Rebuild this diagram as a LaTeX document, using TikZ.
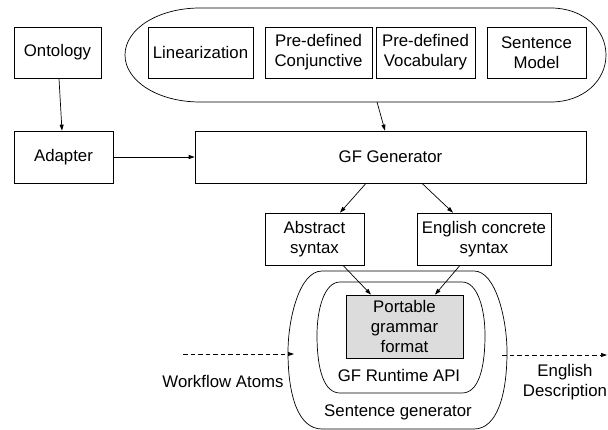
\documentclass[tikz,border=0pt]{standalone}
\usepackage{fontspec}
\setmainfont{Liberation Sans}
\usetikzlibrary{arrows.meta}
\begin{document}
\begin{tikzpicture}[x=1pt,y=-1pt,
  every node/.style={font=\fontsize{16.8}{20}\selectfont},
  box/.style={draw, line width=0.7pt, inner sep=0pt, align=center, minimum height=51pt},
  conn/.style={line width=0.7pt, -{Triangle[length=6pt,width=4pt]}},
  dconn/.style={line width=0.7pt, dash pattern=on 4.5pt off 3pt, -{Triangle[length=6pt,width=4pt]}},
  shell/.style={draw, line width=0.7pt},
  lbl/.style={inner sep=0pt, align=center}]
\useasboundingbox (0,0) rectangle (608,430);

% top container
\draw[shell] (200,8) -- (551,8) .. controls (583,8) and (606,29) .. (606,55)
  .. controls (606,81) and (583,102) .. (551,102) -- (200,102)
  .. controls (158,102) and (125,81) .. (125,55)
  .. controls (125,29) and (158,8) .. (200,8);
\coordinate (ctop) at (377,102);

\node[box, minimum width=87pt] (onto) at (57.5,52.5) {Ontology};
\node[box, minimum width=105pt] (lin) at (200.5,52.5) {Linearization};
\node[box, minimum width=107pt] (conj) at (318.5,52.5) {Pre-defined\\Conjunctive};
\node[box, minimum width=99pt] (voc) at (425.5,52.5) {Pre-defined\\Vocabulary};
\node[box, minimum width=99pt] (smod) at (536.5,52.5) {Sentence\\Model};

\node[box, minimum width=99pt, minimum height=52pt] (adapter) at (63.5,157) {Adapter};
\node[box, minimum width=391pt, minimum height=52pt] (gfgen) at (390.5,157) {GF Generator};

\node[box, minimum width=99pt, minimum height=52pt] (abstract) at (314.5,239) {Abstract\\syntax};
\node[box, minimum width=134pt, minimum height=52pt] (english) at (484,239) {English concrete\\syntax};

% sentence generator shells
\draw[shell] (322,271) -- (474,271) .. controls (496,271) and (507,320) .. (507,352)
  .. controls (507,395) and (497,429) .. (474,429) -- (322,429)
  .. controls (298,429) and (288,395) .. (288,352)
  .. controls (288,320) and (299,271) .. (322,271);
\draw[shell] (340,282) -- (462,282) .. controls (478,282) and (485,310) .. (485,335)
  .. controls (485,370) and (478,393) .. (462,393) -- (340,393)
  .. controls (324,393) and (317,370) .. (317,335)
  .. controls (317,310) and (324,282) .. (340,282);

\node[box, fill={rgb,255:red,220;green,220;blue,220}, minimum width=117pt, minimum height=63pt] (portable) at (404.5,326.5) {Portable\\grammar\\format};
\node[lbl] (api) at (399,375) {GF Runtime API};
\node[lbl] (sgen) at (398,412) {Sentence generator};
\node[lbl] (wf) at (223,381) {Workflow Atoms};
\node[lbl] (engd) at (565,382) {English\\Description};

\coordinate (wfs) at (183,354);
\coordinate (wfe) at (294,354);
\coordinate (eds) at (502,355);
\coordinate (ede) at (607,355);

\draw[conn] (onto) -- (adapter);
\draw[conn] (adapter) -- (gfgen);
\draw[conn] (ctop) -- ([xshift=-5.5pt]gfgen.north);
\draw[conn] ([xshift=-24.5pt]gfgen.south) -- ([xshift=25.5pt]abstract.north);
\draw[conn] ([xshift=31.5pt]gfgen.south) -- ([xshift=-31pt]english.north);
\draw[conn] ([xshift=28.5pt]abstract.south) -- ([xshift=-33.5pt]portable.north);
\draw[conn] ([xshift=-24pt]english.south) -- ([xshift=30.5pt]portable.north);
\draw[dconn] (wfs) -- (wfe);
\draw[dconn] (eds) -- (ede);
\end{tikzpicture}
\end{document}
